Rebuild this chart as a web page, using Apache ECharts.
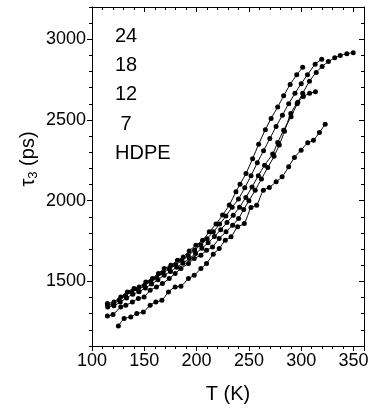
<!DOCTYPE html>
<html>
<head>
<meta charset="utf-8">
<script src="https://cdn.jsdelivr.net/npm/echarts@6/dist/echarts.min.js"></script>
<style>
html,body{margin:0;padding:0;background:#fff;}
#chart{width:374px;height:410px;}
</style>
</head>
<body>
<div id="chart"></div>
<script>
// ---- data ----
const seriesNames = ['24', '18', '12', '7', 'HDPE'];
const legendLabels = ['24', '18', '12', ' 7', 'HDPE'];
const xTicks = [100, 150, 200, 250, 300, 350];
const yTicks = [1500, 2000, 2500, 3000];

const T24   = [114.7,121,127.5,133.8,140.2,145,151.4,157.8,163.5,169,175.4,181.7,187.2,192.9,199.3,205.7,212.1,218.5,224.8,231.2,237.6,241.5,247.2,253.5,259.3,265.7,271.2,277.5,283.2,289.4,295.7,301.4];
const tau24 = [1363,1373,1404,1435,1456,1466,1497,1518,1549,1580,1600,1631,1652,1689,1724,1755,1807,1855,1911,1973,2055,2102,2169,2260,2350,2440,2510,2580,2650,2720,2780,2826];

const T18   = [115,120.5,126,132,138,144,150,156,162,168,174,180,186,192,198,204,210,216,222,228,234,240,246,252,258,264,270,276,282,288,294,300,306,313.3,319.6];
const tau18 = [1352,1360,1385,1412,1436,1450,1474,1500,1525,1553,1578,1603,1630,1660,1693,1727,1765,1808,1855,1905,1960,2010,2080,2155,2235,2310,2385,2460,2530,2600,2665,2725,2780,2845,2876];

const T12   = [115,121,127,133,139,145,151,157,163,169,175,181,187,193,199,205,211,217,223,229,235,241,247,253,259,265,272.7,277.5,283.2,290.3,296.1,301.4,307.9,314.3,320,326,332,337.3,343.6,349.7];
const tau12 = [1342,1350,1372,1398,1420,1436,1460,1484,1510,1538,1562,1588,1613,1642,1673,1705,1740,1778,1820,1865,1910,1960,2020,2085,2155,2220,2290,2360,2437,2520,2600,2665,2740,2795,2832,2862,2885,2900,2910,2917];

const T7    = [114.7,120.1,127.5,132.3,138.6,144.3,149.8,155.6,161.6,167.3,173.8,179.5,185,192.2,197.7,204.1,209.5,215.2,221.6,228.1,234.4,240.1,245,250,256,262,268,274,279,284,290,296.7,302,308,313.6];
const tau7  = [1286,1295,1342,1352,1373,1394,1404,1445,1466,1487,1518,1549,1580,1611,1642,1662,1693,1714,1766,1807,1848,1890,1945,2000,2065,2135,2205,2275,2345,2430,2540,2610,2645,2665,2675];

const THD   = [125.2,130.7,137.1,142.8,149.1,155.6,161,166.8,173.1,179.5,185,192.2,197.7,204.1,209.5,215.9,221.6,227.4,232.9,239.2,245.6,252,257.4,263.8,269.5,276,281.7,288,293.5,299.9,306.2,311.7,317.4,322.9];
const tauHD = [1224,1270,1280,1301,1311,1352,1373,1383,1435,1466,1470,1518,1538,1580,1611,1669,1704,1755,1776,1838,1859,1958,1972,2065,2082,2117,2148,2210,2268,2313,2359,2375,2423,2474];

const xs = [T24, T18, T12, T7, THD];
const ys = [tau24, tau18, tau12, tau7, tauHD];

// ---- chart ----
const FONT = '"Liberation Sans", Arial, sans-serif';
const black = '#000';
const chart = echarts.init(document.getElementById('chart'), null, {renderer: 'canvas'});

const zip = (a, b) => a.map((v, i) => [v, b[i]]);

const series = seriesNames.map((name, i) => ({
  name: name,
  type: 'line',
  xAxisIndex: 0,
  yAxisIndex: 0,
  data: zip(xs[i], ys[i]),
  symbol: 'circle',
  symbolSize: 5,
  showSymbol: true,
  smooth: 0.25,
  lineStyle: {color: black, width: 1},
  itemStyle: {color: black},
  emphasis: {disabled: true}
}));

const axisLine = {show: true, lineStyle: {color: black, width: 1}};

const option = {
  animation: false,
  backgroundColor: '#fff',
  grid: {left: 92, right: 10, top: 7, bottom: 64},
  xAxis: [
    {
      type: 'value', position: 'bottom', min: 100, max: 360, interval: 50,
      axisLine: axisLine,
      axisTick: {show: true, length: 5, lineStyle: {color: black}},
      minorTick: {show: true, splitNumber: 5, length: 3, lineStyle: {color: black}},
      splitLine: {show: false}, minorSplitLine: {show: false},
      axisLabel: {color: black, fontSize: 18, fontFamily: FONT, margin: 6, showMaxLabel: false,
                  formatter: v => (xTicks.indexOf(v) >= 0 ? String(v) : '')},
      name: 'T (K)', nameLocation: 'middle', nameGap: 38,
      nameTextStyle: {color: black, fontSize: 20, fontFamily: FONT}
    },
    {
      type: 'value', position: 'top', min: 100, max: 360, interval: 50,
      axisLine: axisLine,
      axisTick: {show: true, inside: true, length: 5, lineStyle: {color: black}},
      minorTick: {show: true, splitNumber: 5, length: 3, lineStyle: {color: black}},
      splitLine: {show: false}, minorSplitLine: {show: false},
      axisLabel: {show: false}
    }
  ],
  yAxis: [
    {
      type: 'value', position: 'left', min: 1100, max: 3200,
      axisLine: axisLine,
      axisTick: {show: true, length: 5, customValues: yTicks, lineStyle: {color: black}},
      axisLabel: {color: black, fontSize: 18, fontFamily: FONT, margin: 6, customValues: yTicks,
                  formatter: v => String(v)},
      splitLine: {show: false}
    },
    {
      type: 'value', position: 'left', min: 1100, max: 3200, interval: 100,
      axisLine: {show: false},
      axisTick: {show: true, length: 3, lineStyle: {color: black}},
      axisLabel: {show: false},
      splitLine: {show: false}
    },
    {
      type: 'value', position: 'right', min: 1100, max: 3200,
      axisLine: axisLine,
      axisTick: {show: true, inside: true, length: 5, customValues: yTicks, lineStyle: {color: black}},
      axisLabel: {show: false},
      splitLine: {show: false}
    },
    {
      type: 'value', position: 'right', min: 1100, max: 3200, interval: 100,
      axisLine: {show: false},
      axisTick: {show: true, inside: true, length: 3, lineStyle: {color: black}},
      axisLabel: {show: false},
      splitLine: {show: false}
    }
  ],
  graphic: [
    {
      type: 'text', x: 28, y: 159, rotation: Math.PI / 2,
      style: {
        text: '{a|τ}{s|3}{a| (ps)}',
        align: 'center', verticalAlign: 'middle', fill: black,
        rich: {
          a: {fontSize: 20, fontFamily: FONT, fill: black},
          s: {fontSize: 13, fontFamily: FONT, fill: black, padding: [10, 0, 0, 0]}
        }
      }
    }
  ].concat(legendLabels.map((t, i) => ({
    type: 'text', x: 115, y: 36.5 + i * 29.2,
    style: {text: t, fill: black, font: '20px ' + FONT, align: 'left', verticalAlign: 'middle'}
  }))),
  series: series
};
chart.setOption(option);
</script>
</body>
</html>
